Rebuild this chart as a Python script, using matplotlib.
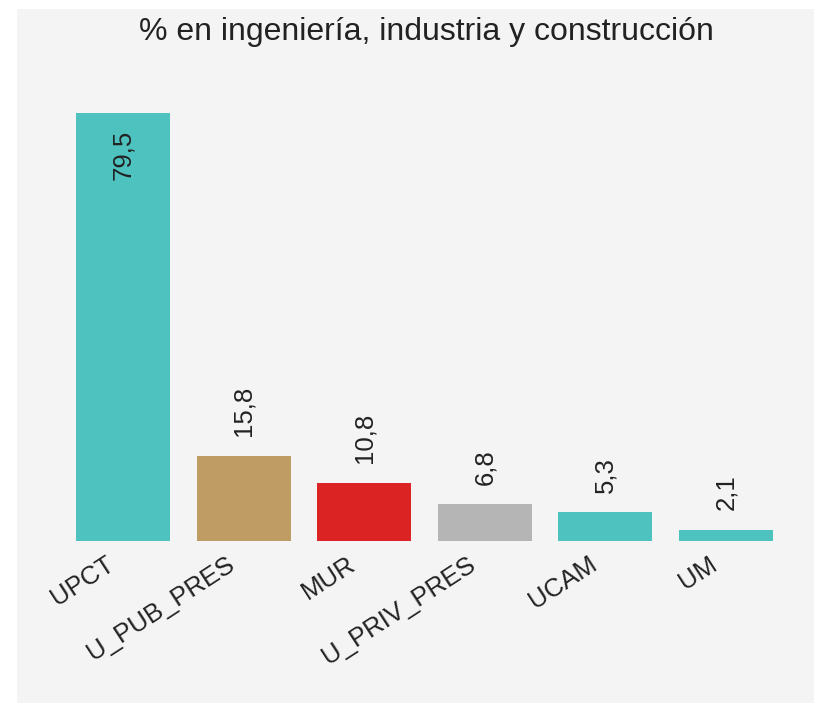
import matplotlib.pyplot as plt
import matplotlib.patches as mpatches

plt.rcParams['font.family'] = ['Liberation Sans', 'DejaVu Sans']

# % de matriculados en ingeniería, industria y construcción
CATEGORIAS = ['UPCT', 'U_PUB_PRES', 'MUR', 'U_PRIV_PRES', 'UCAM', 'UM']
VALORES = [79.5, 15.8, 10.8, 6.8, 5.3, 2.1]
COLORES = ['#4ec2be', '#be9c63', '#dc2323', '#b5b5b5', '#4ec2be', '#4ec2be']
TITULO = '% en ingeniería, industria y construcción'

W, H = 814, 703
BG = '#f4f4f4'
TXT = '#222222'


def px(v, total):
    return v / total


def main():
    fig = plt.figure(figsize=(W / 100, H / 100), dpi=100)
    fig.patch.set_facecolor('white')

    # panel gris de fondo
    fig.patches.append(mpatches.Rectangle(
        (px(17, W), 0), 1, 1 - px(9, H), transform=fig.transFigure,
        facecolor=BG, edgecolor='none', zorder=-1))

    left, right = 62.7, 786.3
    top, bottom = 60, 541
    ax = fig.add_axes([px(left, W), 1 - px(bottom, H),
                       px(right - left, W), px(bottom - top, H)])
    ax.set_facecolor(BG)
    ax.patch.set_alpha(0)

    x = list(range(len(CATEGORIAS)))
    bars = ax.bar(x, VALORES, width=0.78, color=COLORES)
    ax.set_xlim(-0.5, len(CATEGORIAS) - 0.5)
    ax.set_ylim(0, 89.3)

    for bar, v in zip(bars, VALORES):
        etiqueta = f'{v:.1f}'.replace('.', ',')
        cx = bar.get_x() + bar.get_width() / 2
        if v > 50:
            ax.annotate(etiqueta, (cx, v), xytext=(0, -12), textcoords='offset points',
                        rotation=90, ha='center', va='top', fontsize=18.5, color=TXT)
        else:
            ax.annotate(etiqueta, (cx, v), xytext=(0, 14), textcoords='offset points',
                        rotation=90, ha='center', va='bottom', fontsize=18.5, color=TXT)

    # etiquetas de categoría giradas, ancladas por su extremo derecho
    for xi, cat in zip(x, CATEGORIAS):
        ax.annotate(cat, (xi, 0), xycoords=('data', 'axes fraction'),
                    xytext=(-8, -15), textcoords='offset points',
                    rotation=33, ha='right', va='center', rotation_mode='anchor',
                    fontsize=18.5, color=TXT, annotation_clip=False)
    ax.set_xticks([])
    ax.set_yticks([])
    for s in ax.spines.values():
        s.set_visible(False)

    fig.text(px(426, W), 1 - px(32, H), TITULO,
             ha='center', va='center', fontsize=23, color=TXT)

    fig.savefig('out.png', dpi=100, facecolor='white')


if __name__ == '__main__':
    main()
